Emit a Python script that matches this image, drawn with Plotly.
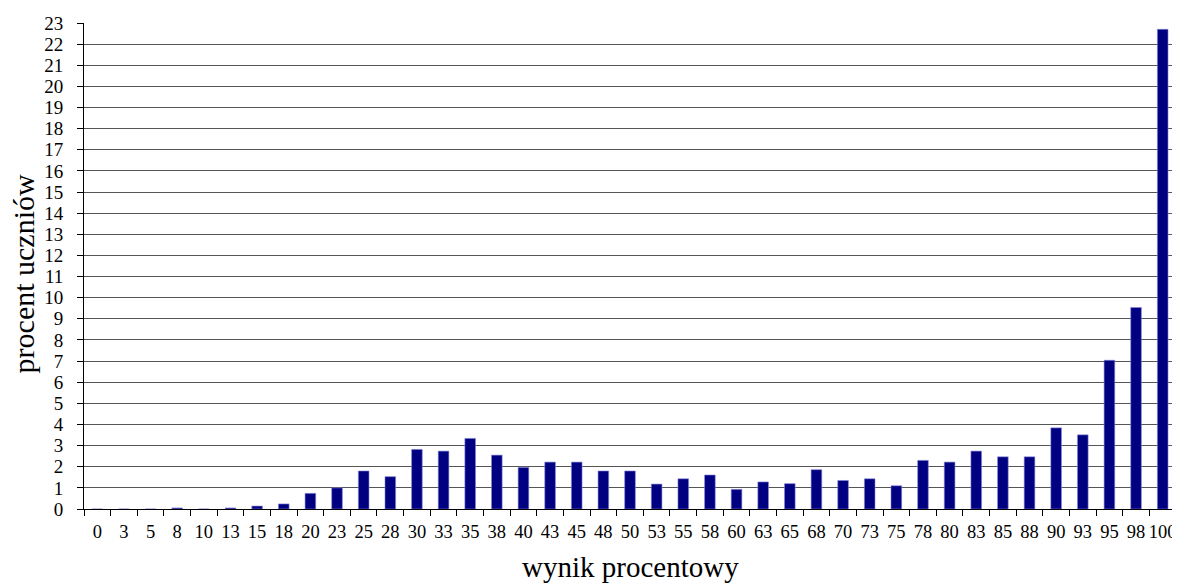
import plotly.graph_objects as go

categories = ["0", "3", "5", "8", "10", "13", "15", "18", "20", "23", "25", "28",
              "30", "33", "35", "38", "40", "43", "45", "48", "50", "53", "55", "58",
              "60", "63", "65", "68", "70", "73", "75", "78", "80", "83", "85", "88",
              "90", "93", "95", "98", "100"]
values = [0, 0, 0, 0.05, 0, 0.05, 0.14, 0.24, 0.74, 1.0, 1.8, 1.53,
          2.82, 2.74, 3.34, 2.55, 1.97, 2.22, 2.22, 1.8, 1.8, 1.18, 1.43, 1.61,
          0.93, 1.28, 1.2, 1.86, 1.35, 1.43, 1.1, 2.3, 2.22, 2.74, 2.47, 2.47,
          3.84, 3.51, 7.04, 9.54, 22.7]
y_ticks = list(range(0, 24))
x_title = "wynik procentowy"
y_title = "procent uczniów"

FONT = "Liberation Serif, Times New Roman, serif"

fig = go.Figure(go.Bar(
    x=categories, y=values,
    marker=dict(color="#000080", line=dict(color="#8888dd", width=0.6)),
))

fig.update_layout(
    width=1172, height=575,
    margin=dict(l=76, r=4, t=15, b=74, autoexpand=False),
    paper_bgcolor="white", plot_bgcolor="white",
    bargap=0.6,
    showlegend=False,
    font=dict(family=FONT, color="black", size=19),
    xaxis=dict(
        type="category", tickson="boundaries", ticks="outside", ticklen=6,
        tickcolor="black", showline=True, linecolor="black", linewidth=1,
        showgrid=False, tickangle=0, tickfont=dict(size=18.5, family=FONT),
        automargin=False, ticklabelstandoff=6,
    ),
    yaxis=dict(
        range=[0, 23], tickvals=y_ticks, ticks="outside", ticklen=6,
        tickcolor="black", showline=True, linecolor="black", linewidth=1,
        showgrid=True, gridcolor="#555555", gridwidth=1,
        tickfont=dict(size=19, family=FONT), zeroline=False, automargin=False,
        ticklabelstandoff=10,
    ),
    annotations=[
        dict(text=x_title, xref="paper", yref="paper", x=0.5, y=-0.119,
             xanchor="center", yanchor="middle", showarrow=False,
             font=dict(size=29, family=FONT, color="black")),
        dict(text=y_title, xref="paper", yref="paper", x=-0.0555, y=0.4835,
             xanchor="center", yanchor="middle", showarrow=False, textangle=-90,
             font=dict(size=30, family=FONT, color="black")),
    ],
)
fig.add_shape(type="line", xref="paper", yref="paper", x0=1, x1=1, y0=0, y1=1,
              line=dict(color="#888888", width=1))

fig.write_html("out.html")
